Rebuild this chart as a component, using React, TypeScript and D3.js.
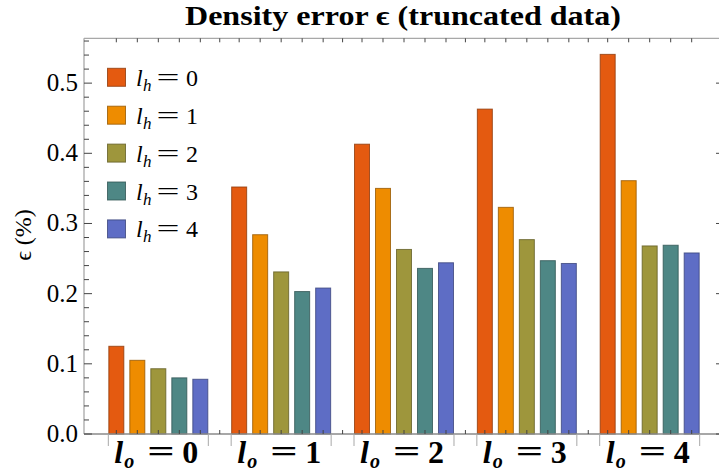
import React from "react";
import * as d3 from "d3";

const groups = ["0", "1", "2", "3", "4"];
const seriesNames = ["0", "1", "2", "3", "4"];
const lh0 = [0.125, 0.352, 0.413, 0.463, 0.541];
const lh1 = [0.105, 0.284, 0.350, 0.323, 0.361];
const lh2 = [0.093, 0.231, 0.263, 0.277, 0.268];
const lh3 = [0.080, 0.203, 0.236, 0.247, 0.269];
const lh4 = [0.078, 0.208, 0.244, 0.243, 0.258];
const seriesValues = [lh0, lh1, lh2, lh3, lh4];
const colors = ["#E45A10", "#EE8C00", "#9E963C", "#4E8785", "#5E6DC5"];
const yMajorTicks = [0, 0.1, 0.2, 0.3, 0.4, 0.5];

const W = 719;
const H = 471;
const L = 84;
const R = 724;
const T = 38.3;
const B = 434;
const serif = "Liberation Serif";

export default function App() {
  const y = d3.scaleLinear().domain([0, 0.5639]).range([B, T]);
  const gx = d3.scaleBand<string>().domain(groups).range([L, R]).paddingInner(0.186).paddingOuter(0.198);
  const bx = d3.scaleBand<string>().domain(seriesNames).range([0, gx.bandwidth()]).paddingInner(5 / 21).paddingOuter(0);

  const minor = d3.range(0, 0.5639, 0.02).filter((v) => Math.abs(Math.round(v * 10) / 10 - v) > 1e-6);
  const barCenters: number[] = [];
  groups.forEach((g) => seriesNames.forEach((s) => barCenters.push((gx(g) as number) + (bx(s) as number) + bx.bandwidth() / 2)));
  const gapCenters: number[] = [];
  for (let i = 0; i < groups.length - 1; i++) {
    const a = (gx(groups[i]) as number) + gx.bandwidth();
    const b = gx(groups[i + 1]) as number;
    gapCenters.push((a + b) / 2);
  }
  const hTicks = [...barCenters, ...gapCenters];
  const frame = "#a8a8a8";
  const tickC = "#444";

  return (
    <div style={{ position: "fixed", left: 0, top: 0, width: W, height: H, background: "#fff" }}>
      <svg width={W} height={H} style={{ display: "block", fontFamily: serif }}>
        <text x={185} y={25} fontWeight="bold" fontSize={28} textLength={436} lengthAdjust="spacingAndGlyphs">
          Density error ϵ (truncated data)
        </text>
        {/* bars */}
        {groups.map((g, gi) =>
          seriesNames.map((s, si) => {
            const v = seriesValues[si][gi];
            const x0 = (gx(g) as number) + (bx(s) as number);
            const c = d3.color(colors[si])!.darker(1.3).formatHex();
            return (
              <rect key={g + s} x={x0 + 0.5} y={y(v)} width={bx.bandwidth() - 1} height={B - y(v)} fill={colors[si]} stroke={c} strokeWidth={1} strokeOpacity={0.8} />
            );
          })
        )}
        {/* frame */}
        <line x1={L} x2={L} y1={T} y2={B} stroke={frame} strokeWidth={1.3} />
        <line x1={L} x2={R + 2} y1={T} y2={T} stroke={frame} strokeWidth={1.3} />
        <line x1={R} x2={R} y1={T} y2={B} stroke={frame} strokeWidth={1.3} />
        <line x1={L} x2={R + 2} y1={B} y2={B} stroke={"#8a8a8a"} strokeWidth={1.5} />
        {/* y ticks */}
        {yMajorTicks.map((t) => (
          <g key={"maj" + t}>
            <line x1={L} x2={L + 8} y1={y(t)} y2={y(t)} stroke={tickC} strokeWidth={1} />
            <line x1={R - 8} x2={R} y1={y(t)} y2={y(t)} stroke={tickC} strokeWidth={1} />
            <text x={78} y={y(t) + 8} textAnchor="end" fontSize={25}>
              {d3.format(".1f")(t)}
            </text>
          </g>
        ))}
        {minor.map((t) => (
          <g key={"min" + t}>
            <line x1={L} x2={L + 5} y1={y(t)} y2={y(t)} stroke={tickC} strokeWidth={1} />
            <line x1={R - 5} x2={R} y1={y(t)} y2={y(t)} stroke={tickC} strokeWidth={1} />
          </g>
        ))}
        {/* x ticks */}
        {hTicks.map((x, i) => (
          <g key={"h" + i}>
            <line x1={x} x2={x} y1={T} y2={T + 4} stroke={tickC} strokeWidth={1} />
            <line x1={x} x2={x} y1={B} y2={B - 4} stroke={tickC} strokeWidth={1} />
          </g>
        ))}
        {groups.map((g) => {
          const a = gx(g) as number;
          const b = a + gx.bandwidth();
          const c = a + gx.bandwidth() / 2;
          return (
            <g key={"ge" + g}>
              <line x1={a} x2={a} y1={B} y2={B + 12} stroke={frame} strokeWidth={1} />
              <line x1={b} x2={b} y1={B} y2={B + 12} stroke={frame} strokeWidth={1} />
              <g fontWeight="bold">
                <text x={c - 44} y={463} fontStyle="italic" fontSize={32}>l</text>
                <text x={c - 34} y={468} fontStyle="italic" fontSize={20}>o</text>
                <text x={c - 11} y={462} fontSize={32} textLength={27.5} lengthAdjust="spacingAndGlyphs">=</text>
                <text x={c + 24} y={463} fontSize={32}>{g}</text>
              </g>
            </g>
          );
        })}
        {/* y label */}
        <text transform="translate(31,235) rotate(-90)" textAnchor="middle" fontSize={24}>
          ϵ (%)
        </text>
        {/* legend */}
        {seriesNames.map((s, i) => {
          const yy = 68.3 + i * 37.9;
          return (
            <g key={"lg" + s}>
              <rect x={107.5} y={yy} width={18} height={18} fill={colors[i]} stroke={d3.color(colors[i])!.darker(1.3).formatHex()} strokeOpacity={0.8} />
              <text x={136} y={yy + 17.5} fontStyle="italic" fontSize={24}>l</text>
              <text x={143} y={yy + 22.5} fontStyle="italic" fontSize={17}>h</text>
              <text x={156.5} y={yy + 16.5} fontSize={24} textLength={23} lengthAdjust="spacingAndGlyphs">=</text>
              <text x={186} y={yy + 17.5} fontSize={24}>{s}</text>
            </g>
          );
        })}
      </svg>
    </div>
  );
}
